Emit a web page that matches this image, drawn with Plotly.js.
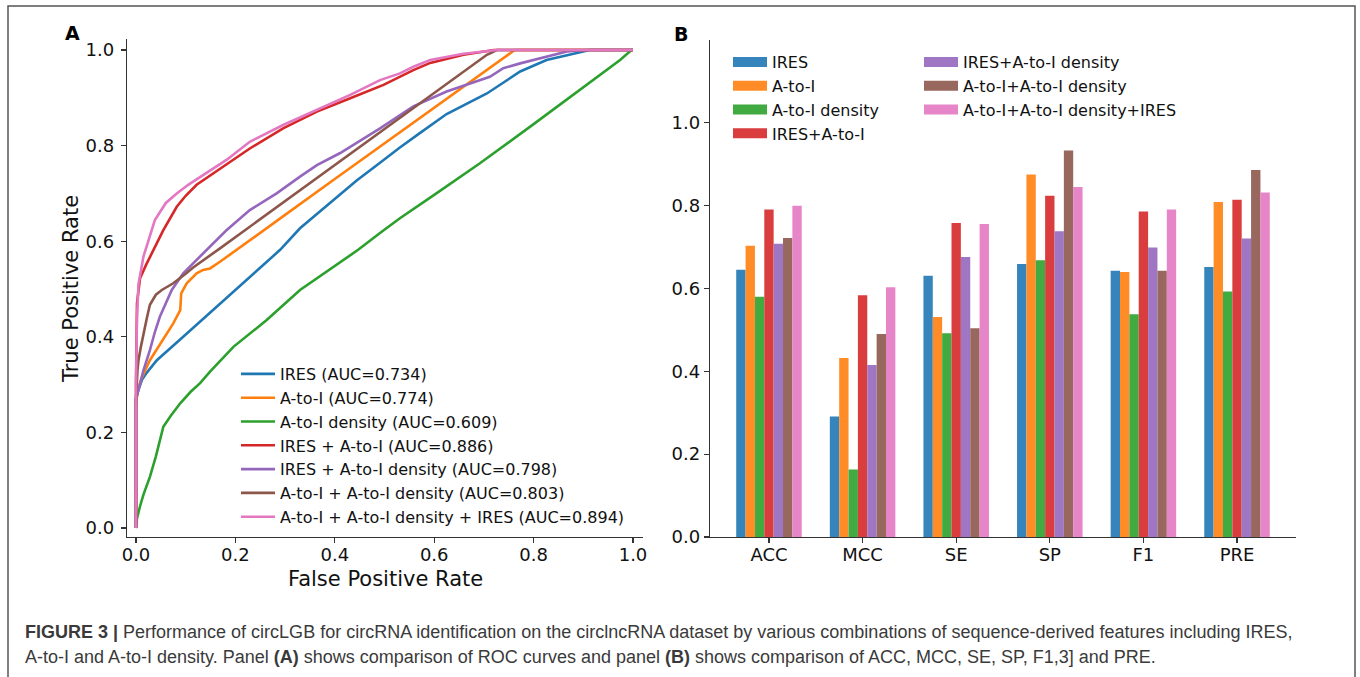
<!DOCTYPE html>
<html>
<head>
<meta charset="utf-8">
<script src="https://cdn.plot.ly/plotly-3.0.1.min.js"></script>
<style>html,body{margin:0;padding:0;background:#fff;}#chart{width:1360px;height:677px;}</style>
</head>
<body>
<div id="chart"></div>
<script>
// ---------- Panel A: ROC curves ----------
const rocNames = [
  "IRES (AUC=0.734)",
  "A-to-I (AUC=0.774)",
  "A-to-I density (AUC=0.609)",
  "IRES + A-to-I (AUC=0.886)",
  "IRES + A-to-I density (AUC=0.798)",
  "A-to-I + A-to-I density (AUC=0.803)",
  "A-to-I + A-to-I density + IRES (AUC=0.894)"
];
const fprIRES = [0,0,0.005,0.012,0.021,0.042,0.095,0.162,0.216,0.290,0.330,0.397,0.444,0.491,0.531,0.571,0.625,0.706,0.773,0.826,0.913,1.0];
const tprIRES = [0,0.27,0.289,0.31,0.324,0.351,0.400,0.463,0.513,0.582,0.627,0.686,0.727,0.764,0.796,0.826,0.866,0.909,0.955,0.979,1.0,1.0];

const fprAtoI = [0,0,0.004,0.011,0.028,0.048,0.075,0.089,0.091,0.102,0.122,0.135,0.149,0.169,0.203,0.300,0.400,0.491,0.600,0.700,0.759,0.762,1.0];
const tprAtoI = [0,0.26,0.29,0.313,0.351,0.383,0.428,0.456,0.491,0.512,0.533,0.540,0.543,0.557,0.582,0.655,0.730,0.798,0.880,0.955,0.998,1.0,1.0];

const fprDens = [0,0.002,0.008,0.015,0.028,0.040,0.055,0.070,0.089,0.110,0.129,0.149,0.196,0.263,0.330,0.397,0.447,0.491,0.531,0.600,0.692,0.800,0.893,0.974,0.997,1.0];
const tprDens = [0,0.02,0.045,0.07,0.107,0.15,0.212,0.235,0.261,0.285,0.303,0.327,0.379,0.435,0.498,0.547,0.582,0.617,0.648,0.697,0.763,0.845,0.916,0.979,1.0,1.0];

const fprIresAtoI = [0,0,0.002,0.008,0.020,0.035,0.055,0.082,0.100,0.122,0.150,0.176,0.229,0.296,0.364,0.431,0.498,0.558,0.592,0.659,0.706,0.720,1.0];
const tprIresAtoI = [0,0.30,0.47,0.522,0.55,0.582,0.623,0.672,0.695,0.718,0.738,0.756,0.794,0.836,0.871,0.899,0.927,0.958,0.973,0.990,0.998,1.0,1.0];

const fprIresDens = [0,0,0.005,0.015,0.028,0.038,0.048,0.060,0.072,0.095,0.115,0.142,0.182,0.229,0.283,0.330,0.364,0.410,0.464,0.491,0.558,0.625,0.712,0.739,0.773,0.826,0.867,0.907,1.0];
const tprIresDens = [0,0.27,0.289,0.33,0.372,0.41,0.442,0.47,0.498,0.533,0.554,0.582,0.623,0.665,0.700,0.735,0.759,0.784,0.819,0.836,0.882,0.913,0.944,0.962,0.972,0.986,0.997,1.0,1.0];

const fprAtoIDens = [0,0,0.003,0.005,0.010,0.015,0.022,0.028,0.040,0.052,0.075,0.100,0.115,0.169,0.250,0.330,0.420,0.531,0.620,0.706,0.726,1.0];
const tprAtoIDens = [0,0.27,0.33,0.351,0.38,0.407,0.44,0.467,0.488,0.498,0.512,0.532,0.545,0.585,0.646,0.708,0.775,0.859,0.925,0.990,1.0,1.0];

const fprAll = [0,0,0.002,0.005,0.015,0.025,0.038,0.060,0.082,0.105,0.129,0.155,0.182,0.229,0.296,0.364,0.431,0.491,0.531,0.558,0.592,0.659,0.726,1.0];
const tprAll = [0,0.30,0.44,0.51,0.568,0.60,0.644,0.68,0.700,0.718,0.735,0.752,0.770,0.808,0.843,0.874,0.906,0.937,0.951,0.965,0.979,0.992,1.0,1.0];

const rocFpr = [fprIRES, fprAtoI, fprDens, fprIresAtoI, fprIresDens, fprAtoIDens, fprAll];
const rocTpr = [tprIRES, tprAtoI, tprDens, tprIresAtoI, tprIresDens, tprAtoIDens, tprAll];
const lineColors = ["#1f77b4","#ff7f0e","#2ca02c","#d62728","#9467bd","#8c564b","#e377c2"];

// ---------- Panel B: metrics bar chart ----------
const metrics = ["ACC","MCC","SE","SP","F1","PRE"];
const barNames = ["IRES","A-to-I","A-to-I density","IRES+A-to-I","IRES+A-to-I density","A-to-I+A-to-I density","A-to-I+A-to-I density+IRES"];
const valIRES        = [0.645,0.291,0.631,0.659,0.643,0.652];
const valAtoI        = [0.703,0.432,0.531,0.875,0.640,0.809];
const valDens        = [0.580,0.163,0.492,0.668,0.538,0.593];
const valIresAtoI    = [0.791,0.584,0.758,0.824,0.786,0.814];
const valIresDens    = [0.708,0.415,0.676,0.738,0.699,0.721];
const valAtoIDens    = [0.722,0.490,0.504,0.933,0.643,0.886];
const valAll         = [0.800,0.603,0.756,0.845,0.791,0.832];
const barValues = [valIRES,valAtoI,valDens,valIresAtoI,valIresDens,valAtoIDens,valAll];
const barColors = ["#3585bc","#ff8c26","#41aa41","#da3d3e","#9f76c4","#98675d","#e685c8"];

const W = 1360, H = 677;
const px = v => v / W;
const py = v => 1 - v / H;

const traces = [];
for (let i = 0; i < rocNames.length; i++) {
  traces.push({
    type: "scatter", mode: "lines", x: rocFpr[i], y: rocTpr[i], name: rocNames[i],
    xaxis: "x", yaxis: "y", legend: "legend",
    line: {color: lineColors[i], width: 2.6}
  });
}
for (let i = 0; i < barNames.length; i++) {
  traces.push({
    type: "bar", x: metrics, y: barValues[i], name: barNames[i],
    xaxis: "x2", yaxis: "y2", showlegend: false,
    marker: {color: barColors[i], line: {width: 0}}
  });
}
// legend entries for panel B (patch-like keys)
for (let i = 0; i < barNames.length; i++) {
  traces.push({
    type: "scatter", mode: "lines", x: [null], y: [null], name: barNames[i],
    xaxis: "x2", yaxis: "y2", legend: i < 4 ? "legend2" : "legend3",
    line: {color: barColors[i], width: 11}
  });
}

const axisBase = {
  showline: true, linecolor: "#333", linewidth: 1.3,
  ticks: "outside", ticklen: 5, tickwidth: 1.3, tickcolor: "#333",
  showgrid: false, zeroline: false, automargin: false,
  tickfont: {family: "DejaVu Sans", size: 18, color: "#111"}
};

const legendBase = {
  font: {family: "DejaVu Sans", size: 16, color: "#111"},
  bgcolor: "rgba(0,0,0,0)", borderwidth: 0,
  xanchor: "left", yanchor: "top", itemwidth: 34, tracegroupgap: 0
};

const layout = {
  width: W, height: H,
  margin: {l: 0, r: 0, t: 0, b: 0},
  paper_bgcolor: "#fff", plot_bgcolor: "#fff",
  showlegend: true,
  barmode: "group", bargap: 0.3, bargroupgap: 0,
  xaxis: Object.assign({}, axisBase, {
    domain: [px(127), px(643)], range: [-0.0181, 1.0201],
    tickvals: [0,0.2,0.4,0.6,0.8,1.0], tickformat: ".1f", anchor: "y",
    ticklabelstandoff: -4
  }),
  yaxis: Object.assign({}, axisBase, {
    domain: [py(537), py(39)], range: [-0.0188, 1.023],
    tickvals: [0,0.2,0.4,0.6,0.8,1.0], tickformat: ".1f", anchor: "x",
    ticklabelstandoff: 3
  }),
  xaxis2: Object.assign({}, axisBase, {
    domain: [px(710), px(1296)], range: [-0.63, 5.63], type: "category", anchor: "y2",
    ticklabelstandoff: -4
  }),
  yaxis2: Object.assign({}, axisBase, {
    domain: [py(537), py(40)], range: [0, 1.2],
    tickvals: [0,0.2,0.4,0.6,0.8,1.0], tickformat: ".1f", anchor: "x2"
  }),
  legend: Object.assign({}, legendBase, {x: px(236), y: py(357)}),
  legend2: Object.assign({}, legendBase, {x: px(728), y: py(45)}),
  legend3: Object.assign({}, legendBase, {x: px(919), y: py(45)}),
  shapes: [{
    type: "rect", xref: "paper", yref: "paper",
    x0: px(8), x1: px(1355), y0: -0.02, y1: py(6),
    line: {color: "#555", width: 1.5}, fillcolor: "rgba(0,0,0,0)", layer: "below"
  }],
  annotations: [
    {text: "<b>A</b>", x: px(72), y: py(33), xref: "paper", yref: "paper", showarrow: false,
     xanchor: "center", yanchor: "middle", font: {family: "DejaVu Sans", size: 19, color: "#000"}},
    {text: "<b>B</b>", x: px(681), y: py(34), xref: "paper", yref: "paper", showarrow: false,
     xanchor: "center", yanchor: "middle", font: {family: "DejaVu Sans", size: 19, color: "#000"}},
    {text: "False Positive Rate", x: px(385), y: py(579), xref: "paper", yref: "paper", showarrow: false,
     xanchor: "center", yanchor: "middle", font: {family: "DejaVu Sans", size: 21, color: "#111"}},
    {text: "True Positive Rate", x: px(71), y: py(289), xref: "paper", yref: "paper", showarrow: false,
     textangle: -90, xanchor: "center", yanchor: "middle", font: {family: "DejaVu Sans", size: 21, color: "#111"}},
    {text: "<b>FIGURE 3 |</b> Performance of circLGB for circRNA identification on the circlncRNA dataset by various combinations of sequence-derived features including IRES,",
     x: px(23), y: py(632), xref: "paper", yref: "paper", showarrow: false, align: "left",
     xanchor: "left", yanchor: "middle", font: {family: "Liberation Sans", size: 18, color: "#3a3a3a"}},
    {text: "A-to-I and A-to-I density. Panel <b>(A)</b> shows comparison of ROC curves and panel <b>(B)</b> shows comparison of ACC, MCC, SE, SP, F1,3] and PRE.",
     x: px(23), y: py(657), xref: "paper", yref: "paper", showarrow: false, align: "left",
     xanchor: "left", yanchor: "middle", font: {family: "Liberation Sans", size: 18, color: "#3a3a3a"}}
  ]
};

Plotly.newPlot("chart", traces, layout, {staticPlot: true, displayModeBar: false});
</script>
</body>
</html>
